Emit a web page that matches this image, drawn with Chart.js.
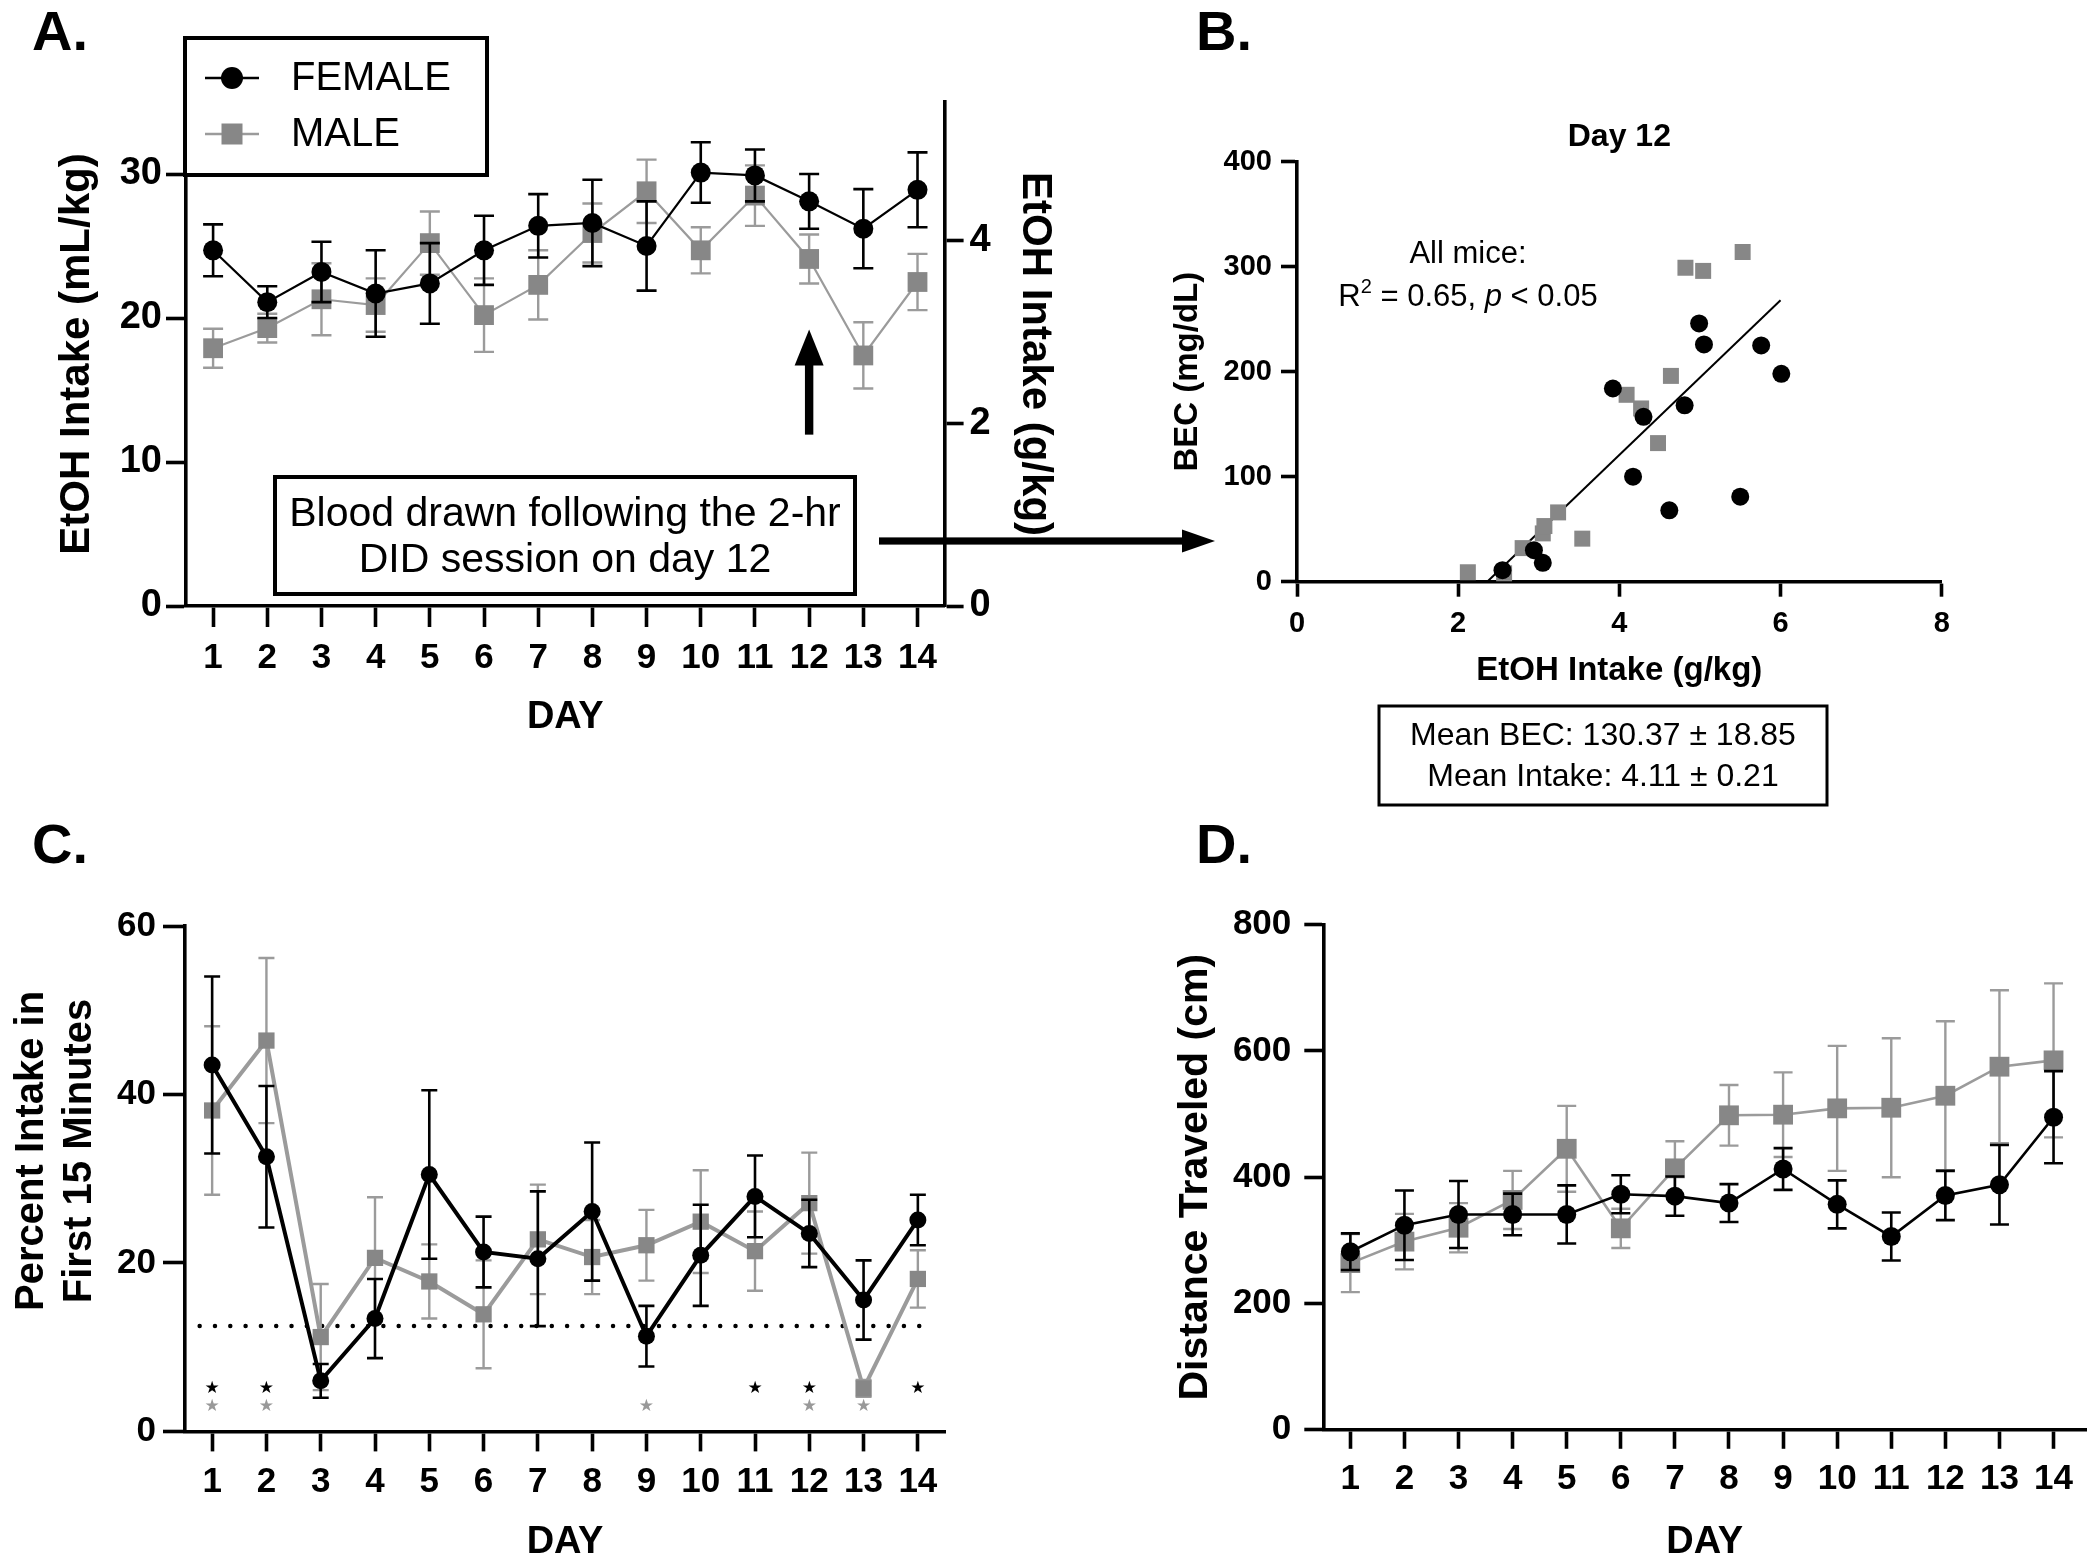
<!DOCTYPE html>
<html><head><meta charset="utf-8">
<script src="https://cdn.jsdelivr.net/npm/chart.js@4.4.1/dist/chart.umd.min.js"></script>
<style>
html,body{margin:0;padding:0;background:#fff;overflow:hidden;width:2100px;height:1560px;position:relative;}
canvas{position:absolute;}
.lbl{position:absolute;font:bold 56px 'Liberation Sans',Arial,sans-serif;line-height:56px;color:#000;}
</style></head><body>
<canvas id="cA" width="1240" height="780" style="left:0;top:0"></canvas>
<canvas id="cB" width="1000" height="740" style="left:1120px;top:90px"></canvas>
<canvas id="cC" width="1060" height="800" style="left:0;top:790px"></canvas>
<canvas id="cD" width="1000" height="800" style="left:1100px;top:790px"></canvas>
<div class="lbl" style="left:32px;top:3px">A.</div>
<div class="lbl" style="left:1196px;top:3px">B.</div>
<div class="lbl" style="left:32px;top:816px">C.</div>
<div class="lbl" style="left:1196px;top:816px">D.</div>
<script>
// ---------- data ----------
const days = [1,2,3,4,5,6,7,8,9,10,11,12,13,14];

// Panel A: EtOH intake (mL/kg), mean and SEM
const intakeFemale    = [24.7, 21.1, 23.2, 21.7, 22.4, 24.7, 26.4, 26.6, 25.0, 30.1, 29.9, 28.1, 26.2, 28.9];
const intakeFemaleSem = [1.8, 1.1, 2.1, 3.0, 2.8, 2.4, 2.2, 3.0, 3.1, 2.1, 1.8, 1.9, 2.75, 2.6];
const intakeMale      = [17.9, 19.3, 21.3, 20.9, 25.2, 20.2, 22.3, 25.9, 28.8, 24.7, 28.5, 24.1, 17.4, 22.5];
const intakeMaleSem   = [1.35, 1.0, 2.5, 1.85, 2.2, 2.55, 2.4, 2.05, 2.2, 1.6, 2.1, 1.7, 2.3, 1.95];
const ticksIntakeMl = [0, 10, 20, 30];
const ticksIntakeG  = [0, 2, 4];
const mlToG = 0.2 * 0.789; // 20% v/v ethanol

// Panel B: day 12 BEC vs intake
const becFemaleIntake = [2.55, 2.94, 3.05, 3.92, 4.17, 4.30, 4.62, 4.81, 4.99, 5.05, 5.50, 5.76, 6.01];
const becFemale       = [11, 30, 18, 184, 100, 157, 68, 168, 246, 226, 81, 225, 198];
const becMaleIntake   = [2.12, 2.57, 2.80, 3.05, 3.07, 3.24, 3.54, 4.09, 4.27, 4.48, 4.64, 4.82, 5.04, 5.53];
const becMale         = [9, 8, 32, 46, 53, 66, 41, 178, 165, 132, 196, 299, 296, 314];
const fitIntake = [2.36, 6.0];
const fitBec    = [0, 268];
const ticksBecX = [0, 2, 4, 6, 8];
const ticksBecY = [0, 100, 200, 300, 400];

// Panel C: percent intake in first 15 min
const pctFemale    = [43.5, 32.6, 6.0, 13.4, 30.5, 21.3, 20.5, 26.1, 11.3, 20.9, 27.9, 23.5, 15.6, 25.1];
const pctFemaleSem = [10.5, 8.4, 2.0, 4.7, 10.0, 4.2, 8.0, 8.2, 3.6, 6.0, 4.85, 4.0, 4.7, 3.0];
const pctMale      = [38.1, 46.4, 11.2, 20.6, 17.8, 13.9, 22.8, 20.7, 22.1, 24.9, 21.4, 27.1, 5.1, 18.1];
const pctMaleSem   = [10.0, 9.8, 6.3, 7.2, 4.4, 6.4, 6.5, 4.4, 4.2, 6.1, 4.7, 6.0, 1.0, 3.4];
const sigFemaleDays = [1, 2, 11, 12, 14];
const sigMaleDays   = [1, 2, 9, 12, 13];
const chanceLevel = 12.5;
const ticksPct = [0, 20, 40, 60];

// Panel D: distance traveled (cm)
const distFemale    = [282, 324, 341, 341, 341, 373, 370, 359, 413, 357, 306, 371, 388, 495];
const distFemaleSem = [29, 55, 53, 33, 46, 30, 31, 30, 33, 38, 38, 39, 63, 73];
const distMale      = [264, 298, 320, 364, 445, 319, 414, 498, 499, 509, 510, 529, 575, 585];
const distMaleSem   = [46, 44, 39, 46, 68, 31, 43, 48, 67, 99, 110, 118, 121, 122];
const ticksDist = [0, 200, 400, 600, 800];

// ---------- styling helpers ----------
const FONT = "'Liberation Sans', Arial, Helvetica, sans-serif";
const BLACK = '#000000', GRAY = '#878787', GRAY_LINE = '#9b9b9b';
const AXW = 3.6;
Chart.defaults.font.family = FONT;
Chart.defaults.color = '#000';
Chart.defaults.animation = false;
Chart.defaults.responsive = false;
Chart.defaults.devicePixelRatio = 1;
Chart.defaults.events = [];
Chart.defaults.plugins.legend.display = false;
Chart.defaults.plugins.tooltip.enabled = false;

const xy = (xs, ys) => xs.map((x, i) => ({x: x, y: ys[i]}));
const setTicks = arr => s => { s.ticks = arr.map(v => ({value: v})); };

function axis(o) {
  const horiz = o.position === 'bottom';
  return {
    type: 'linear', position: o.position, min: o.min, max: o.max,
    afterBuildTicks: setTicks(o.ticks),
    afterFit: horiz ? (s => { s.height = o.size; }) : (s => { s.width = o.size; }),
    border: {display: true, color: '#000', width: AXW},
    grid: {drawOnChartArea: false, drawTicks: true, tickLength: o.tickLength, tickWidth: AXW, tickColor: '#000'},
    ticks: {color: '#000', padding: o.pad, autoSkip: false, maxRotation: 0, font: {size: o.fontSize, weight: 'bold'}},
    title: {display: true, text: o.title, color: '#000',
      font: {size: o.titleSize, weight: 'bold', lineHeight: o.titleLH || 1.2},
      padding: horiz ? {top: 0, bottom: o.titlePad} : {top: o.titlePad, bottom: 0}}
  };
}

function series(label, ys, errs, s) {
  return {
    label: label, data: xy(days, ys), errors: errs,
    borderColor: s.line, borderWidth: s.lw, tension: 0, fill: false, clip: false,
    pointStyle: s.style, pointRadius: s.r, pointBackgroundColor: s.marker, pointBorderColor: s.marker, pointBorderWidth: 0,
    errColor: s.err, errWidth: s.errW, capWidth: s.cap
  };
}

// error bars drawn by the library's scales, just before each dataset
const errorBars = {
  id: 'errorBars',
  beforeDatasetDraw(chart, args) {
    const ds = chart.data.datasets[args.index];
    if (!ds.errors) return;
    const ys = chart.scales[args.meta.yAxisID];
    const ctx = chart.ctx;
    ctx.save();
    ctx.strokeStyle = ds.errColor; ctx.lineWidth = ds.errWidth; ctx.lineCap = 'butt';
    args.meta.data.forEach((el, i) => {
      const v = ds.data[i].y, e = ds.errors[i], h = ds.capWidth / 2, x = el.x;
      const y1 = ys.getPixelForValue(v + e), y2 = ys.getPixelForValue(v - e);
      ctx.beginPath();
      ctx.moveTo(x, y1); ctx.lineTo(x, y2);
      ctx.moveTo(x - h, y1); ctx.lineTo(x + h, y1);
      ctx.moveTo(x - h, y2); ctx.lineTo(x + h, y2);
      ctx.stroke();
    });
    ctx.restore();
  }
};
Chart.register(errorBars);

// ---------- Panel A extras ----------
const panelAExtras = {
  id: 'panelAExtras',
  afterDraw(chart) {
    const ctx = chart.ctx, xs = chart.scales.x, ys = chart.scales.y;
    ctx.save();
    // legend box
    ctx.fillStyle = '#fff'; ctx.fillRect(185, 38, 302, 137);
    ctx.lineWidth = 4; ctx.strokeStyle = '#000'; ctx.strokeRect(185, 38, 302, 137);
    const rows = [78, 134];
    chart.data.datasets.forEach((ds, i) => {
      const y = rows[i];
      ctx.strokeStyle = ds.borderColor; ctx.lineWidth = 2.5;
      ctx.beginPath(); ctx.moveTo(205, y); ctx.lineTo(259, y); ctx.stroke();
      ctx.fillStyle = ds.pointBackgroundColor;
      if (ds.pointStyle === 'circle') { ctx.beginPath(); ctx.arc(232, y, 11, 0, 2 * Math.PI); ctx.fill(); }
      else ctx.fillRect(221.5, y - 10.5, 21, 21);
      ctx.fillStyle = '#000'; ctx.font = '40px ' + FONT;
      ctx.textAlign = 'left'; ctx.textBaseline = 'middle';
      ctx.fillText(ds.label, 291, y + 1);
    });
    // annotation box
    ctx.fillStyle = '#fff'; ctx.fillRect(275, 477, 580, 117);
    ctx.lineWidth = 4; ctx.strokeStyle = '#000'; ctx.strokeRect(275, 477, 580, 117);
    ctx.fillStyle = '#000'; ctx.font = '41px ' + FONT; ctx.textAlign = 'center'; ctx.textBaseline = 'middle';
    ctx.fillText('Blood drawn following the 2-hr', 565, 515);
    ctx.fillText('DID session on day 12', 565, 561);
    // vertical arrow at day 12
    const ax = xs.getPixelForValue(12), tip = ys.getPixelForValue(19.2), bot = ys.getPixelForValue(11.9);
    ctx.fillRect(ax - 4.2, tip + 30, 8.4, bot - tip - 30);
    ctx.beginPath(); ctx.moveTo(ax - 14.5, tip + 36); ctx.lineTo(ax + 14.5, tip + 36); ctx.lineTo(ax, tip); ctx.closePath(); ctx.fill();
    // arrow to panel B
    const x0 = 879, x1 = 1215, ay = 541;
    ctx.fillRect(x0, ay - 3.6, x1 - x0 - 28, 7.2);
    ctx.beginPath(); ctx.moveTo(x1 - 33, ay - 11.5); ctx.lineTo(x1, ay); ctx.lineTo(x1 - 33, ay + 11.5); ctx.closePath(); ctx.fill();
    ctx.restore();
  }
};

new Chart(document.getElementById('cA'), {
  type: 'line',
  data: {datasets: [
    series('FEMALE', intakeFemale, intakeFemaleSem, {marker: BLACK, line: BLACK, lw: 2.2, style: 'circle', r: 10, err: BLACK, errW: 2.6, cap: 20}),
    series('MALE', intakeMale, intakeMaleSem, {marker: GRAY, line: GRAY_LINE, lw: 2.2, style: 'rect', r: 14, err: GRAY_LINE, errW: 2.4, cap: 20})
  ]},
  options: {
    layout: {padding: {left: 0, top: 102, right: 180, bottom: 0}},
    scales: {
      x: axis({position: 'bottom', min: 0.5, max: 14.5, ticks: days, size: 174, tickLength: 21, pad: 10, fontSize: 35, title: 'DAY', titleSize: 38, titlePad: 40}),
      y: axis({position: 'left', min: 0, max: 35, ticks: ticksIntakeMl, size: 186, tickLength: 20, pad: 4, fontSize: 38, title: 'EtOH Intake (mL/kg)', titleSize: 42, titlePad: 52.5}),
      y2: axis({position: 'right', min: 0, max: 35 * mlToG, ticks: ticksIntakeG, size: 115.4, tickLength: 19, pad: 6, fontSize: 38, title: 'EtOH Intake (g/kg)', titleSize: 42, titlePad: 0.5})
    }
  },
  plugins: [panelAExtras]
});

// ---------- Panel B ----------
const panelBExtras = {
  id: 'panelBExtras',
  afterDraw(chart) {
    const ctx = chart.ctx;
    ctx.save();
    ctx.fillStyle = '#000'; ctx.textBaseline = 'alphabetic';
    ctx.font = '31px ' + FONT; ctx.textAlign = 'center';
    ctx.fillText('All mice:', 348, 173);
    const segs = [['R', '31px ', 0], ['2', '20px ', -13], [' = 0.65, ', '31px ', 0], ['p', 'italic 31px ', 0], [' < 0.05', '31px ', 0]];
    ctx.textAlign = 'left';
    let tot = 0;
    segs.forEach(s => { ctx.font = s[1] + FONT; tot += ctx.measureText(s[0]).width; });
    let cx = 348 - tot / 2;
    segs.forEach(s => { ctx.font = s[1] + FONT; ctx.fillText(s[0], cx, 216 + s[2]); cx += ctx.measureText(s[0]).width; });
    // mean box
    ctx.lineWidth = 3; ctx.strokeStyle = '#000'; ctx.strokeRect(259, 616, 448, 99);
    ctx.font = '32px ' + FONT; ctx.textAlign = 'center';
    ctx.fillText('Mean BEC: 130.37 \u00B1 18.85', 483, 655);
    ctx.fillText('Mean Intake: 4.11 \u00B1 0.21', 483, 696);
    ctx.restore();
  }
};

new Chart(document.getElementById('cB'), {
  type: 'scatter',
  data: {datasets: [
    {label: 'FEMALE', data: xy(becFemaleIntake, becFemale), pointStyle: 'circle', pointRadius: 9, pointBackgroundColor: BLACK, pointBorderWidth: 0, clip: false},
    {label: 'MALE', data: xy(becMaleIntake, becMale), pointStyle: 'rect', pointRadius: 11.3, pointBackgroundColor: GRAY, pointBorderWidth: 0, clip: false},
    {label: 'All mice fit', data: xy(fitIntake, fitBec), showLine: true, borderColor: BLACK, borderWidth: 2, pointRadius: 0, clip: false}
  ]},
  options: {
    layout: {padding: {left: 0, top: 0, right: 178.3, bottom: 0}},
    plugins: {title: {display: true, text: 'Day 12', color: '#000', fullSize: false, font: {size: 32, weight: 'bold', lineHeight: 1.2}, padding: {top: 27.5, bottom: 5.8}}},
    scales: {
      x: axis({position: 'bottom', min: 0, max: 8, ticks: ticksBecX, size: 248.3, tickLength: 15, pad: 10, fontSize: 29, title: 'EtOH Intake (g/kg)', titleSize: 33, titlePad: 139}),
      y: axis({position: 'left', min: 0, max: 400, ticks: ticksBecY, size: 177, tickLength: 16, pad: 9, fontSize: 29, title: 'BEC (mg/dL)', titleSize: 33, titlePad: 48.5})
    }
  },
  plugins: [panelBExtras]
});

// ---------- Panel C ----------
const sigStars = {
  id: 'sigStars',
  afterDatasetsDraw(chart, args, o) {
    const ctx = chart.ctx, xs = chart.scales.x, ys = chart.scales.y;
    ctx.save();
    ctx.font = o.size + "px 'DejaVu Sans'"; ctx.textAlign = 'center'; ctx.textBaseline = 'middle';
    o.groups.forEach(g => {
      ctx.fillStyle = g.color;
      g.days.forEach(d => ctx.fillText('\u2605', xs.getPixelForValue(d), ys.getPixelForValue(g.level)));
    });
    ctx.restore();
  }
};

new Chart(document.getElementById('cC'), {
  type: 'line',
  data: {datasets: [
    series('FEMALE', pctFemale, pctFemaleSem, {marker: BLACK, line: BLACK, lw: 4, style: 'circle', r: 8.5, err: BLACK, errW: 2.6, cap: 16}),
    series('MALE', pctMale, pctMaleSem, {marker: GRAY, line: GRAY_LINE, lw: 4, style: 'rect', r: 11.5, err: GRAY_LINE, errW: 2.4, cap: 16}),
    {label: 'chance', data: [{x: 0.77, y: chanceLevel}, {x: 14.25, y: chanceLevel}], borderColor: BLACK, borderWidth: 4.5,
     borderDash: [0.01, 15.3], borderCapStyle: 'round', pointRadius: 0, clip: false}
  ]},
  options: {
    layout: {padding: {left: 0, top: 136, right: 115, bottom: 0}},
    plugins: {sigStars: {size: 17, groups: [{days: sigFemaleDays, level: 5.1, color: '#000'}, {days: sigMaleDays, level: 2.9, color: '#999'}]}},
    scales: {
      x: axis({position: 'bottom', min: 0.5, max: 14.5, ticks: days, size: 158.6, tickLength: 20, pad: 10, fontSize: 35, title: 'DAY', titleSize: 38, titlePad: 24.5}),
      y: axis({position: 'left', min: 0, max: 60, ticks: ticksPct, size: 185, tickLength: 22, pad: 7, fontSize: 35,
               title: ['     Percent Intake in', '     First 15 Minutes'], titleSize: 40, titleLH: 1.2, titlePad: 8})
    }
  },
  plugins: [sigStars]
});

// ---------- Panel D ----------
new Chart(document.getElementById('cD'), {
  type: 'line',
  data: {datasets: [
    series('FEMALE', distFemale, distFemaleSem, {marker: BLACK, line: BLACK, lw: 2.6, style: 'circle', r: 9.5, err: BLACK, errW: 2.6, cap: 19}),
    series('MALE', distMale, distMaleSem, {marker: GRAY, line: GRAY_LINE, lw: 2.6, style: 'rect', r: 14, err: GRAY_LINE, errW: 2.4, cap: 19})
  ]},
  options: {
    layout: {padding: {left: 0, top: 134.6, right: 12, bottom: 0}},
    scales: {
      x: axis({position: 'bottom', min: 0.5, max: 14.6, ticks: days, size: 160.2, tickLength: 19, pad: 10, fontSize: 35, title: 'DAY', titleSize: 38, titlePad: 24.5}),
      y: axis({position: 'left', min: 0, max: 800, ticks: ticksDist, size: 223.3, tickLength: 19, pad: 13, fontSize: 35, title: 'Distance Traveled (cm)', titleSize: 41, titlePad: 71})
    }
  }
});
</script>
</body></html>
